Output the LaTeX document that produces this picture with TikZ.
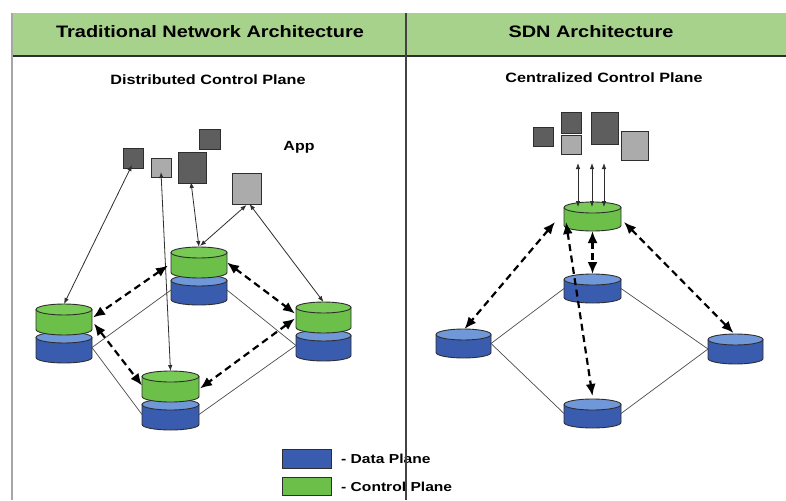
\documentclass[tikz,border=0pt]{standalone}
\usepackage{fontspec}
\setmainfont[FakeStretch=1.2]{Liberation Sans}
\usetikzlibrary{arrows.meta,fit}
\definecolor{hdrgreen}{HTML}{A6D28B}
\definecolor{cgreen}{HTML}{6CC04A}
\definecolor{cgreentop}{HTML}{78C956}
\definecolor{dblue}{HTML}{3A5CAE}
\definecolor{dbluetop}{HTML}{7098D8}
\definecolor{appdark}{HTML}{5E5E5E}
\definecolor{applight}{HTML}{ABABAB}
\definecolor{edgec}{HTML}{2E2E2E}
\tikzset{
  cyledge/.style={draw=edgec, line width=0.9pt},
  appbox/.style={draw=edgec, line width=1pt, inner sep=0pt, outer sep=0pt},
  thinarrow/.style={{Latex[length=6pt,width=4.5pt]}-{Latex[length=6pt,width=4.5pt]}, line width=0.8pt, draw=edgec},
  dasharrow/.style={{Latex[length=12pt,width=10pt]}-{Latex[length=12pt,width=10pt]}, line width=2.2pt, dash pattern=on 7pt off 4.5pt, draw=black},
  link/.style={draw=edgec!85, line width=0.7pt},
  hdrtext/.style={font=\fontsize{16.6}{18}\selectfont\bfseries, inner sep=0pt},
  subtext/.style={font=\fontsize{13.5}{15}\selectfont\bfseries, inner sep=0pt},
  legtext/.style={font=\fontsize{13}{15}\selectfont\bfseries, anchor=west, inner sep=0pt},
  legbox/.style={draw=edgec, line width=0.8pt, inner sep=0pt, outer sep=0pt},
}
% name, x1, y1, x2, y2, body colour, top colour
\newcommand\cyl[7]{%
  \node[fit={(#2,#3) (#4,#5)}, inner sep=0pt, outer sep=0pt] (#1) {};
  \fill[#6] (#2,{#3+5.5}) -- (#2,{#5-5.5}) arc[start angle=180,end angle=0,x radius={(#4-#2)/2},y radius=5.5] -- (#4,{#3+5.5}) -- cycle;
  \draw[cyledge] (#2,{#3+5.5}) -- (#2,{#5-5.5}) arc[start angle=180,end angle=0,x radius={(#4-#2)/2},y radius=5.5] -- (#4,{#3+5.5});
  \filldraw[fill=#7, cyledge] ({(#2+#4)/2},{#3+5.5}) ellipse[x radius={(#4-#2)/2}, y radius=5.5];
}
\begin{document}
\begin{tikzpicture}[x=1pt,y=-1pt]
\useasboundingbox (0,0) rectangle (786,500);
\fill[white] (0,0) rectangle (786,500);
% header
\fill[hdrgreen] (12,13) rectangle (786,56);
\draw[edgec, line width=1.2pt] (12,56) -- (786,56);
\draw[gray!70, line width=1.5pt] (12,13) -- (12,500);
\node[hdrtext] (h1) at (210,32) {Traditional Network Architecture};
\node[hdrtext] (h2) at (591,32) {SDN Architecture};
\node[subtext] (sub1) at (208,80) {Distributed Control Plane};
\node[subtext] (sub2) at (604,78) {Centralized Control Plane};
\node[font=\fontsize{13.3}{15}\selectfont\bfseries, inner sep=0pt] (app) at (299,147) {App};

% ---------- left: apps
\node[appbox, fill=appdark, fit={(123,148) (143,168)}] (a1) {};
\node[appbox, fill=applight, fit={(151,158) (171,177)}] (a2) {};
\node[appbox, fill=appdark, fit={(178,152) (206,183)}] (a3) {};
\node[appbox, fill=appdark, fit={(199,129) (220,149)}] (a4) {};
\node[appbox, fill=applight, fit={(232,173) (261,204)}] (a5) {};

% ---------- left: stacks (blue first, then green)
\cyl{tb}{171}{275}{227}{305}{dblue}{dbluetop}
\cyl{tg}{171}{247}{227}{278}{cgreen}{cgreentop}
\cyl{lb}{36}{332}{92}{363}{dblue}{dbluetop}
\cyl{lg}{36}{304}{92}{335}{cgreen}{cgreentop}
\cyl{rb}{296}{330}{351}{361}{dblue}{dbluetop}
\cyl{rg}{296}{302}{351}{333}{cgreen}{cgreentop}
\cyl{bb}{142}{399}{199}{430}{dblue}{dbluetop}
\cyl{bg}{142}{371}{199}{402}{cgreen}{cgreentop}

% left: data-plane links
\draw[link] (tb.west) -- (lb.east);
\draw[link] (tb.east) -- (rb.west);
\draw[link] (lb.east) -- (bb.west);
\draw[link] (rb.west) -- (bb.east);

% left: app arrows
\draw[thinarrow] ([shift={(-1,-3)}]a1.south) -- (lg.north);
\draw[thinarrow] ([shift={(0,-5)}]a2.south) -- (bg.north);
\draw[thinarrow] ([shift={(-1,-1)}]a3.south) -- (tg.north);
\draw[thinarrow] ([shift={(0,1)}]a5.south) -- ([shift={(1,-1)}]tg.north);
\draw[thinarrow] ([shift={(3,0)}]a5.south) -- (rg.north);

% left: control-plane dashed arrows
\draw[dasharrow] ([shift={(-3,3)}]tg.west) -- ([shift={(1,-2)}]lg.east);
\draw[dasharrow] ([shift={(0,0)}]tg.east) -- ([shift={(-1,-4)}]rg.west);
\draw[dasharrow] ([shift={(2,4)}]lg.east) -- ([shift={(0,-1)}]bg.west);
\draw[dasharrow] ([shift={(-1,1)}]rg.west) -- ([shift={(1,2)}]bg.east);

% ---------- right: apps
\node[appbox, fill=appdark, fit={(533,127) (553,146)}] (b1) {};
\node[appbox, fill=appdark, fit={(561,113) (581,133)}] (b2) {};
\node[appbox, fill=applight, fit={(561,135) (581,154)}] (b3) {};
\node[appbox, fill=appdark, fit={(591,113) (618,144)}] (b4) {};
\node[appbox, fill=applight, fit={(621,131) (648,160)}] (b5) {};

% right: controller and switches
\cyl{c}{564}{202}{621}{231}{cgreen}{cgreentop}
\cyl{cb}{564}{274}{621}{303}{dblue}{dbluetop}
\cyl{lb2}{436}{329}{491}{358}{dblue}{dbluetop}
\cyl{rb2}{708}{334}{763}{364}{dblue}{dbluetop}
\cyl{bb2}{564}{399}{621}{428}{dblue}{dbluetop}

\draw[link] (cb.west) -- (lb2.east);
\draw[link] (cb.east) -- (rb2.west);
\draw[link] (lb2.east) -- (bb2.west);
\draw[link] (bb2.east) -- (rb2.west);

% right: northbound arrows
\draw[thinarrow] ([shift={(-14.5,5)}]c.north) -- ([shift={(-14.5,-39)}]c.north);
\draw[thinarrow] ([shift={(-0.5,5)}]c.north) -- ([shift={(-0.5,-39)}]c.north);
\draw[thinarrow] ([shift={(11.5,5)}]c.north) -- ([shift={(11.5,-39)}]c.north);

% right: southbound dashed arrows
\draw[dasharrow] ([shift={(-9,-9)}]c.south west) -- ([shift={(1,0)}]lb2.north);
\draw[dasharrow] ([shift={(2,-9)}]c.south west) -- ([shift={(0,-3)}]bb2.north);
\draw[dasharrow] (c.south) -- (cb.north);
\draw[dasharrow] ([shift={(3,-9)}]c.south east) -- ([shift={(-2,-1)}]rb2.north);

% legend
\node[legbox, fill=dblue, fit={(282,449) (331,468)}] (ld) {};
\node[legbox, fill=cgreen, fit={(282,477) (331,495)}] (lc) {};
\node[legtext] (ldt) at (341,459) {- Data Plane};
\node[legtext] (lct) at (341,487) {- Control Plane};

% divider
\draw[edgec!90, line width=1.2pt] (406,13) -- (406,500);
\end{tikzpicture}
\end{document}
